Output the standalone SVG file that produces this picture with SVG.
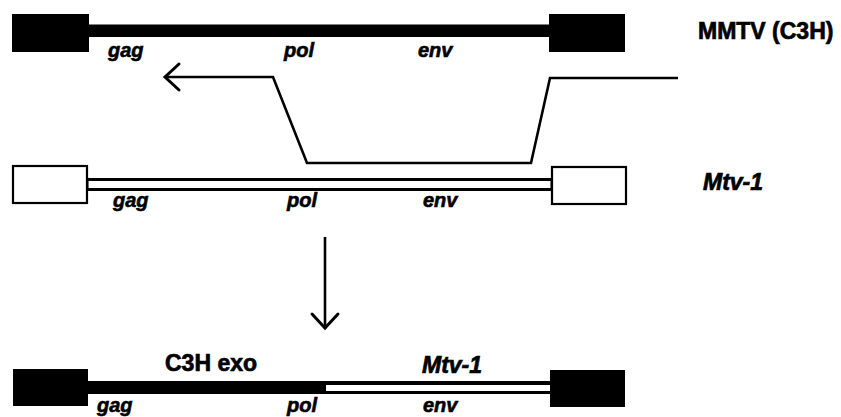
<svg xmlns="http://www.w3.org/2000/svg" width="841" height="417" viewBox="0 0 841 417">
  <style>
    .ltr-solid { fill: #000; }
    .ltr-open { fill: #fff; stroke: #000; stroke-width: 2.2; }
    .body-open { fill: #fff; stroke: #000; stroke-width: 3; }
    .gene { font-family: "Liberation Sans", Arial, sans-serif; font-weight: bold; font-style: italic; font-size: 20px; fill: #000; stroke: #000; stroke-width: 0.6; }
    .name { font-family: "Liberation Sans", Arial, sans-serif; font-weight: bold; font-size: 23px; fill: #000; stroke: #000; stroke-width: 0.7; }
    .name-i { font-style: italic; }
    .conn { fill: none; stroke: #000; stroke-width: 2.6; stroke-linejoin: miter; }
  </style>
  <defs>
    <marker id="chevron" markerUnits="userSpaceOnUse" markerWidth="40" markerHeight="40" viewBox="-20 -20 40 40" refX="0" refY="0" orient="auto" overflow="visible">
      <path d="M -14 -13 L 0 0 L -14 13" fill="none" stroke="#000" stroke-width="3" stroke-linecap="round" stroke-linejoin="miter"/>
    </marker>
  </defs>

  <rect width="841" height="417" fill="#fff"/>

  <!-- Exogenous MMTV (C3H) provirus: solid LTRs and solid body -->
  <g id="mmtv-c3h">
    <rect class="ltr-solid" x="88" y="24.5" width="462" height="12.5"/>
    <rect class="ltr-solid" x="12" y="14" width="77" height="38"/>
    <rect class="ltr-solid" x="549" y="14" width="76" height="38"/>
    <text class="gene" x="108" y="57">gag</text>
    <text class="gene" x="284" y="57">pol</text>
    <text class="gene" x="418" y="57">env</text>
    <text class="name" x="698" y="39">MMTV (C3H)</text>
  </g>

  <!-- Endogenous Mtv-1 provirus: open LTRs and open body -->
  <g id="mtv-1">
    <rect class="body-open" x="87" y="179.5" width="465" height="10"/>
    <rect class="ltr-open" x="13" y="166" width="74" height="37"/>
    <rect class="ltr-open" x="552" y="167" width="74" height="37"/>
    <text class="gene" x="113" y="207">gag</text>
    <text class="gene" x="287" y="207">pol</text>
    <text class="gene" x="423" y="207">env</text>
    <text class="name name-i" x="703" y="190">Mtv-1</text>
  </g>

  <!-- Recombinant: C3H exo 5' half joined to Mtv-1 3' half -->
  <g id="recombinant">
    <rect class="ltr-solid" x="88" y="381" width="462" height="13"/>
    <rect x="326" y="385" width="224" height="6" fill="#fff"/>
    <rect class="ltr-solid" x="13" y="369" width="75" height="37"/>
    <rect class="ltr-solid" x="550" y="370" width="75" height="37"/>
    <text class="name" x="165" y="371">C3H exo</text>
    <text class="name name-i" x="422" y="373">Mtv-1</text>
    <text class="gene" x="97" y="412">gag</text>
    <text class="gene" x="287" y="412">pol</text>
    <text class="gene" x="423" y="412">env</text>
  </g>

  <!-- Connectors: template switch path and recombination arrow -->
  <g id="connectors">
    <path class="conn" d="M 678 78 L 550 78 L 531 163 L 307 163 L 273 77 L 165 77" marker-end="url(#chevron)"/>
    <path class="conn" d="M 325 237 L 325 328" stroke-width="3" marker-end="url(#chevron)"/>
  </g>
</svg>
